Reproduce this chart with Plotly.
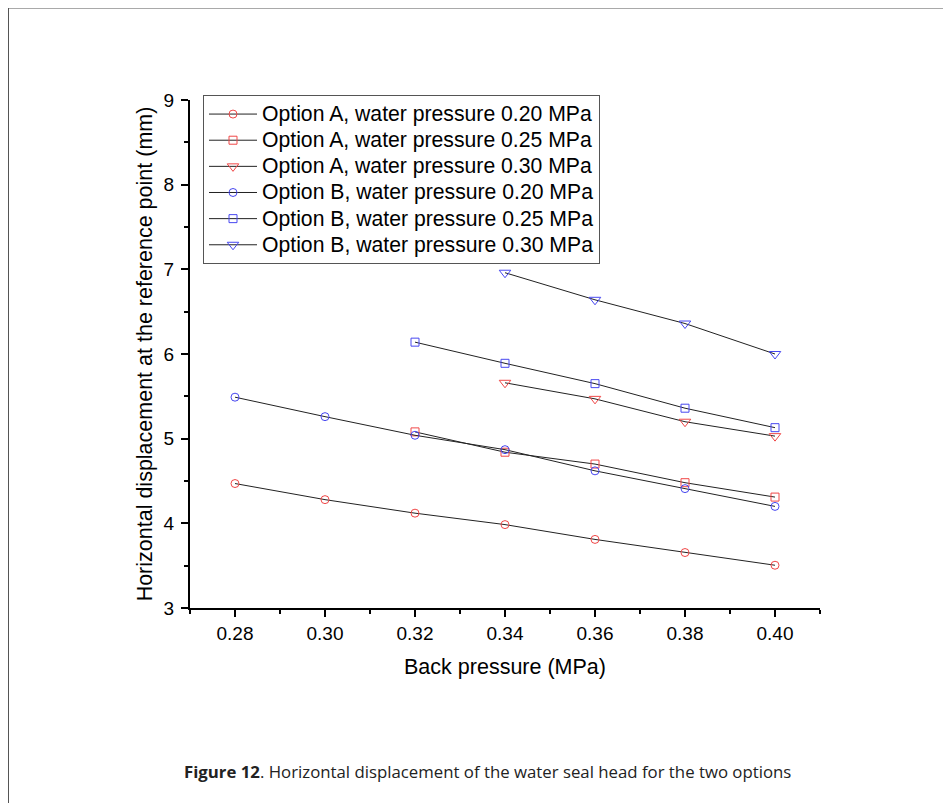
import plotly.graph_objects as go

back_pressure = [0.28, 0.30, 0.32, 0.34, 0.36, 0.38, 0.40]

a_020_x = [0.28, 0.30, 0.32, 0.34, 0.36, 0.38, 0.40]
a_020_y = [4.47, 4.28, 4.12, 3.985, 3.81, 3.655, 3.505]
a_025_x = [0.32, 0.34, 0.36, 0.38, 0.40]
a_025_y = [5.08, 4.84, 4.70, 4.48, 4.31]
a_030_x = [0.34, 0.36, 0.38, 0.40]
a_030_y = [5.66, 5.47, 5.20, 5.03]
b_020_x = [0.28, 0.30, 0.32, 0.34, 0.36, 0.38, 0.40]
b_020_y = [5.49, 5.26, 5.04, 4.87, 4.62, 4.41, 4.20]
b_025_x = [0.32, 0.34, 0.36, 0.38, 0.40]
b_025_y = [6.14, 5.89, 5.65, 5.36, 5.13]
b_030_x = [0.34, 0.36, 0.38, 0.40]
b_030_y = [6.96, 6.64, 6.36, 6.00]

names = [
    "Option A, water pressure 0.20 MPa",
    "Option A, water pressure 0.25 MPa",
    "Option A, water pressure 0.30 MPa",
    "Option B, water pressure 0.20 MPa",
    "Option B, water pressure 0.25 MPa",
    "Option B, water pressure 0.30 MPa",
]
tick_labels = ["0.28", "0.30", "0.32", "0.34", "0.36", "0.38", "0.40"]

RED = "#f04848"
BLUE = "#4848f0"
series = [
    (a_020_x, a_020_y, "circle-open", RED, 8),
    (a_025_x, a_025_y, "square-open", RED, 8),
    (a_030_x, a_030_y, "triangle-down-open", RED, 10),
    (b_020_x, b_020_y, "circle-open", BLUE, 8),
    (b_025_x, b_025_y, "square-open", BLUE, 8),
    (b_030_x, b_030_y, "triangle-down-open", BLUE, 10),
]

fig = go.Figure()
for (xs, ys, sym, col, sz), nm in zip(series, names):
    fig.add_trace(go.Scatter(
        x=xs, y=ys, mode="lines+markers",
        # legend rows are spaced by the legend font; the label itself is drawn a bit larger
        name='<span style="font-size:21.2px">' + nm + "</span>",
        line=dict(color="#222222", width=1),
        marker=dict(symbol=sym, size=sz, color=col, line=dict(color=col, width=1)),
    ))

# page body has an 8px margin, so figure coordinates = screen - 8
OFF = 8
W, H = 951 - OFF, 803 - OFF
L, R, T, B = 190 - OFF, 820 - OFF, 100 - OFF, 608 - OFF
pw, ph = R - L, B - T

def px(x):
    return (x - OFF - L) / pw

def py(y):
    return (B - (y - OFF)) / ph

fig.update_layout(
    width=W, height=H,
    margin=dict(l=L, r=W - R, t=T, b=H - B),
    paper_bgcolor="white", plot_bgcolor="white",
    font=dict(family="Liberation Sans, Arial, sans-serif", color="black"),
    showlegend=True,
    legend=dict(
        x=px(203), y=py(95), xanchor="left", yanchor="top",
        bgcolor="white", bordercolor="#555555", borderwidth=1,
        font=dict(size=17.8, color="black"),
        tracegroupgap=0, itemwidth=48,
    ),
    xaxis=dict(
        range=[0.27, 0.41],
        tickmode="array", tickvals=back_pressure, ticktext=tick_labels,
        ticks="outside", ticklen=7, tickwidth=1.5, tickcolor="black",
        minor=dict(ticks="outside", dtick=0.01, tick0=0.27, ticklen=4, tickwidth=1.5, tickcolor="black"),
        showline=True, linecolor="black", linewidth=2,
        showgrid=False, zeroline=False,
        tickfont=dict(size=19),
        title=dict(text="Back pressure (MPa)", font=dict(size=21.5), standoff=16),
    ),
    yaxis=dict(
        range=[3, 9],
        tickmode="linear", tick0=3, dtick=1,
        ticks="outside", ticklen=7, tickwidth=1.5, tickcolor="black",
        minor=dict(ticks="outside", dtick=0.5, ticklen=4, tickwidth=1.5, tickcolor="black"),
        showline=True, linecolor="black", linewidth=2,
        showgrid=False, zeroline=False,
        ticklabelstandoff=3,
        tickfont=dict(size=19),
        title=dict(text="Horizontal displacement at the reference point (mm)", font=dict(size=21.5), standoff=5),
    ),
)

# outer frame of the figure panel
fig.add_shape(type="line", xref="paper", yref="paper",
              x0=px(8), y0=py(7.5), x1=px(951), y1=py(7.5),
              line=dict(color="#555555", width=2))
fig.add_shape(type="line", xref="paper", yref="paper",
              x0=px(8), y0=py(7.5), x1=px(8), y1=py(803),
              line=dict(color="#555555", width=2))

fig.add_annotation(
    xref="paper", yref="paper", x=px(487), y=py(772),
    xanchor="center", yanchor="middle", showarrow=False,
    text="<b>Figure 12</b>. Horizontal displacement of the water seal head for the two options",
    font=dict(family="Open Sans, Noto Sans, sans-serif", size=16.8, color="#222222"),
)

fig.write_html("out.html")
